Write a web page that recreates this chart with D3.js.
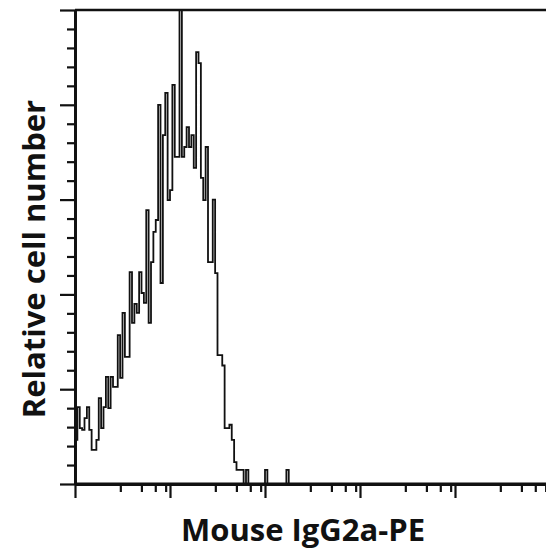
<!DOCTYPE html>
<html>
<head>
<meta charset="utf-8">
<script src="https://cdn.jsdelivr.net/npm/d3@7"></script>
<style>
  body { margin: 0; background: #fff; }
  .axis-title { font-family: "Open Sans", sans-serif; font-weight: 700; fill: #111; }
</style>
</head>
<body>
<svg id="chart"></svg>
<script>
// histogram counts, one per channel, 40 channels per decade, first channel at 10^0
const binsPerDecade = 40;
const counts = [
  9.3, 16.2, 11.8, 11.4, 13.9, 16.2, 11.4, 7.2, 7.2, 9.3,
  18.1, 11.8, 16.2, 22.6, 16.0, 22.6, 20.5, 20.5, 31.4, 22.4,
  36.1, 26.8, 26.8, 44.7, 34.0, 38.0, 36.1, 44.7, 40.3, 38.2,
  57.8, 34.0, 46.8, 53.2, 55.7, 80.0, 42.4, 73.6, 82.5, 59.9,
  62.0, 84.2, 69.0, 69.0, 100, 69.0, 71.1, 75.3, 71.1, 73.6,
  66.7, 91.1, 88.8, 64.6, 59.9, 71.1, 46.8, 46.8, 60.0, 44.5,
  27.2, 27.2, 25.0, 11.8, 11.8, 12.5, 9.3, 4.6, 3.0, 3.0,
  3.0, 0, 3.0, 0, 0, 0, 0, 0, 0, 0,
  3.0, 0, 0, 0, 0, 0, 0, 0, 0, 3.0,
  0
];

const xMajor = [1, 10, 100, 1000, 10000, 100000];
const xMinor = [3, 5, 7, 9, 30, 50, 70, 90, 300, 500, 700, 900, 3000, 5000, 7000, 9000, 30000, 50000, 70000, 90000];
const yMajor = [0, 20, 40, 60, 80, 100];
const yMinor = [4, 8, 12, 16, 24, 28, 32, 36, 44, 48, 52, 56, 64, 68, 72, 76, 84, 88, 92, 96];

const xTitle = "Mouse IgG2a-PE";
const yTitle = "Relative cell number";

function makeHistogram() {
    let w = 546;
    let h = 558;
    let left = 75, top = 10, bottom = 484;

    let svg = d3.select("#chart")
        .attr("width", w)
        .attr("height", h);

    let x = d3.scaleLog().domain([1, 100000]).range([left, left + 5 * 95]);
    let y = d3.scaleLinear().domain([0, 100]).range([bottom, top]);

    let edge = i => x(Math.pow(10, i / binsPerDecade));

    // step points for the histogram outline
    let pts = [[edge(0), 0]];
    counts.forEach((c, i) => pts.push([edge(i), c]));
    pts.push([edge(counts.length), counts[counts.length - 1]]);
    pts.push([edge(counts.length), 0]);

    let line = d3.line()
        .x(d => d[0])
        .y(d => y(d[1]))
        .curve(d3.curveStepAfter);

    svg.append("path")
        .attr("d", line(pts))
        .attr("fill", "none")
        .attr("stroke", "#111")
        .attr("stroke-width", 1.8);

    // top frame line
    svg.append("line")
        .attr("x1", left).attr("x2", w)
        .attr("y1", y(100)).attr("y2", y(100))
        .attr("stroke", "#111").attr("stroke-width", 2.5);

    // y axis
    let gy = svg.append("g").attr("transform", `translate(${left},0)`);
    gy.call(d3.axisLeft(y).tickValues(yMinor).tickSize(8).tickSizeOuter(0).tickFormat(""));
    gy.call(g => g.append("g").call(d3.axisLeft(y).tickValues(yMajor).tickSize(15).tickSizeOuter(0).tickFormat("")));

    // x axis
    let gx = svg.append("g").attr("transform", `translate(0,${bottom})`);
    gx.call(d3.axisBottom(x).tickValues(xMinor).tickSize(8).tickSizeOuter(0).tickFormat(""));
    gx.call(g => g.append("g").call(d3.axisBottom(x).tickValues(xMajor).tickSize(14).tickSizeOuter(0).tickFormat("")));
    gx.select(".domain").attr("d", `M${left},0H${w}`);

    svg.selectAll(".domain").attr("stroke", "#111").attr("stroke-width", 2.8);
    svg.selectAll(".tick line").attr("stroke", "#111").attr("stroke-width", 2.2);

    svg.append("text")
        .classed("axis-title", true)
        .attr("font-size", "31px")
        .attr("text-anchor", "middle")
        .attr("x", 303)
        .attr("y", 541)
        .text(xTitle);

    svg.append("text")
        .classed("axis-title", true)
        .attr("font-size", "31px")
        .attr("text-anchor", "middle")
        .attr("transform", "translate(45,259) rotate(-90)")
        .text(yTitle);
}

window.onload = function() {
    makeHistogram();
}
</script>
</body>
</html>
